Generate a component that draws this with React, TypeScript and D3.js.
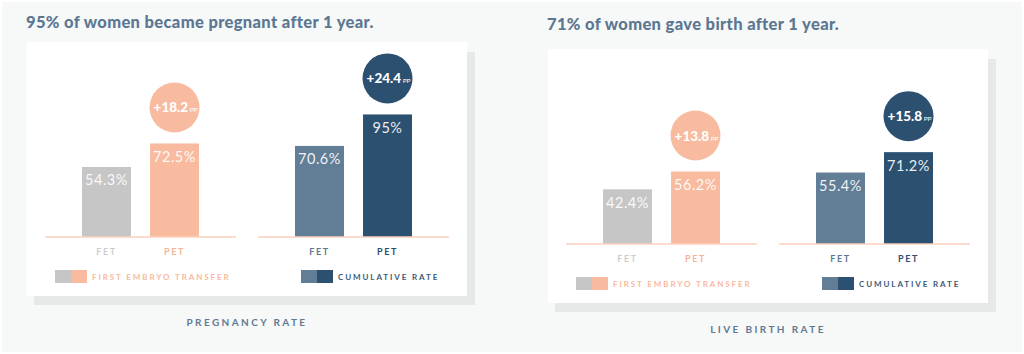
import React from "react";
import * as d3 from "d3";

// categories
const categories = ["FET", "PET"];

// pregnancy rate panel
const pregFirst = [54.3, 72.5];
const pregCumulative = [70.6, 95];
const pregDelta = [18.2, 24.4];

// live birth panel
const birthFirst = [42.4, 56.2];
const birthCumulative = [55.4, 71.2];
const birthDelta = [13.8, 15.8];

const titles = ["95% of women became pregnant after 1 year.", "71% of women gave birth after 1 year."];
const bottomLabels = ["PREGNANCY RATE", "LIVE BIRTH RATE"];
const legendLabels = ["FIRST EMBRYO TRANSFER", "CUMULATIVE RATE"];

const WIDTH = 1024;
const HEIGHT = 354;
const FONT = "Lato, 'Open Sans', sans-serif";

const groupStyles = [
  { bars: ["#c6c6c6", "#f8bba0"], labels: ["#cdcdcd", "#f6b497"], legendText: "#f8b99d", legendX: 10 },
  { bars: ["#627d96", "#2c5070"], labels: ["#5d7890", "#2f4d6c"], legendText: "#3c5a76", legendX: 43 },
];

interface PanelProps {
  x0: number;
  dy: number;
  title: string;
  bottom: string;
  series: number[][];
  deltas: number[];
}

const Panel: React.FC<PanelProps> = ({ x0, dy, title, bottom, series, deltas }) => {
  const baseline = 237 + dy;
  const y = d3.scaleLinear().domain([0, 100]).range([baseline, baseline - 129]);
  const groupOffset = [0, 213];

  return (
    <g transform={`translate(${x0},0)`}>
      <text
        x={26}
        y={28 + dy * 0.3}
        fill="#5b7792"
        fontFamily={FONT}
        fontWeight={900}
        fontSize={16.5}
        letterSpacing={0.35}
      >
        {title}
      </text>
      {/* card shadow + card */}
      <rect x={34} y={52 + dy} width={441} height={253} fill="#e6e9e8" />
      <rect x={27} y={42 + dy} width={440} height={254} fill="#ffffff" />

      {series.map((vals, gi) => {
        const x = d3
          .scaleBand<string>()
          .domain(categories)
          .range([82 + groupOffset[gi], 199 + groupOffset[gi]])
          .paddingInner(0.28)
          .paddingOuter(0);
        const st = groupStyles[gi];
        const bw = x.bandwidth();
        const gx0 = (x("FET") as number) - 37;
        const gx1 = (x("PET") as number) + bw + 37;
        const peak = vals[1];
        const cx = (x("PET") as number) + bw / 2;
        const cy = y(peak) - 36;
        return (
          <g key={gi}>
            {categories.map((c, i) => (
              <g key={c}>
                <rect x={x(c)} y={y(vals[i])} width={bw} height={baseline - y(vals[i])} fill={st.bars[i]} />
                <text
                  x={(x(c) as number) + bw / 2}
                  y={y(vals[i]) + 18.5}
                  textAnchor="middle"
                  fill="#ffffff"
                  fillOpacity={0.92}
                  fontFamily={FONT}
                  fontSize={14.5}
                  letterSpacing={0.5}
                >
                  {`${vals[i]}%`}
                </text>
                <text
                  x={(x(c) as number) + bw / 2}
                  y={baseline + 18}
                  textAnchor="middle"
                  fill={st.labels[i]}
                  fontFamily={FONT}
                  fontWeight={700}
                  fontSize={9}
                  letterSpacing={1.6}
                >
                  {c}
                </text>
              </g>
            ))}
            <line x1={gx0} x2={gx1} y1={baseline} y2={baseline} stroke="#fbd1bd" strokeWidth={1.5} />
            <circle cx={cx} cy={cy} r={25} fill={st.bars[1]} />
            <text x={cx + 1} y={cy + 5} textAnchor="middle" fill="#ffffff" fontFamily={FONT} fontWeight={900}>
              <tspan fontSize={13.5}>{`+${deltas[gi]}`}</tspan>
              <tspan fontSize={6.5} fontWeight={400} dx={1.5}>
                PP
              </tspan>
            </text>
            {/* legend */}
            <rect x={gx0 + st.legendX} y={baseline + 33} width={16} height={13} fill={st.bars[0]} />
            <rect x={gx0 + st.legendX + 16} y={baseline + 33} width={16} height={13} fill={st.bars[1]} />
            <text
              x={gx0 + st.legendX + 37}
              y={baseline + 43}
              fill={st.legendText}
              fontFamily={FONT}
              fontWeight={700}
              fontSize={8}
              letterSpacing={1.9}
            >
              {legendLabels[gi]}
            </text>
          </g>
        );
      })}

      <text
        x={247}
        y={326 + dy}
        textAnchor="middle"
        fill="#5f7a93"
        fontFamily={FONT}
        fontWeight={700}
        fontSize={10}
        letterSpacing={2.4}
      >
        {bottom}
      </text>
    </g>
  );
};

const App: React.FC = () => {
  return (
    <svg width={WIDTH} height={HEIGHT} style={{ position: "absolute", left: 0, top: 0, display: "block" }}>
      <rect x={0} y={0} width={WIDTH} height={HEIGHT} fill="#ffffff" />
      <rect x={2} y={2} width={1020} height={350} fill="#f7f8f8" />
      <Panel
        x0={0}
        dy={0}
        title={titles[0]}
        bottom={bottomLabels[0]}
        series={[pregFirst, pregCumulative]}
        deltas={pregDelta}
      />
      <Panel
        x0={521}
        dy={7}
        title={titles[1]}
        bottom={bottomLabels[1]}
        series={[birthFirst, birthCumulative]}
        deltas={birthDelta}
      />
    </svg>
  );
};

export default App;
